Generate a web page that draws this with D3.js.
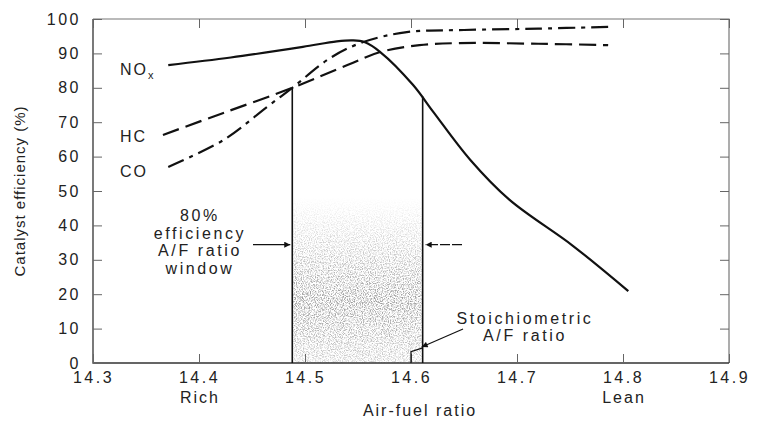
<!DOCTYPE html>
<html>
<head>
<meta charset="utf-8">
<script src="https://cdn.jsdelivr.net/npm/d3@7"></script>
<style>
  html, body { margin: 0; padding: 0; background: #fff; }
  svg { display: block; }
  text { font-family: "Liberation Sans", Arial, sans-serif; fill: #222; }
</style>
</head>
<body>
<svg id="chart" width="758" height="424"></svg>
<script>
// ---- data ----
const xTicks = [14.3, 14.4, 14.5, 14.6, 14.7, 14.8, 14.9];
const yTicks = [0, 10, 20, 30, 40, 50, 60, 70, 80, 90, 100];
const noxX = [14.371, 14.43, 14.498, 14.53, 14.545, 14.556, 14.571, 14.602, 14.621, 14.656, 14.693, 14.753, 14.805];
const noxY = [86.6, 88.8, 91.9, 93.5, 93.8, 93.3, 90.4, 80.8, 73.0, 59.0, 47.4, 34.0, 20.9];
const hcX = [14.366, 14.423, 14.488, 14.54, 14.571, 14.608, 14.646, 14.72, 14.786];
const hcY = [66.3, 72.7, 80.0, 86.6, 90.4, 92.4, 93.0, 92.8, 92.4];
const coX = [14.371, 14.423, 14.464, 14.488, 14.524, 14.555, 14.596, 14.65, 14.72, 14.786];
const coY = [57.0, 64.8, 74.4, 80.0, 88.7, 93.3, 96.2, 96.8, 97.2, 97.7];
const windowLo = 14.488, windowHi = 14.611, stoich = 14.6;
const windowLoY = 80.0, windowHiY = 77.5;
const xSideLabels = [{x: 14.4, t: "Rich"}, {x: 14.8, t: "Lean"}];

// ---- layout ----
const svg = d3.select("#chart");
const L = 93, R = 729, T = 19, B = 363;
const x = d3.scaleLinear().domain([14.3, 14.9]).range([L, R]);
const y = d3.scaleLinear().domain([0, 100]).range([B, T]);

// grain texture in window (scan look)
const defs = svg.append("defs");
const f = defs.append("filter").attr("id", "grain").attr("x", 0).attr("y", 0).attr("width", 1).attr("height", 1);
f.append("feTurbulence").attr("type", "fractalNoise").attr("baseFrequency", 0.85).attr("numOctaves", 2).attr("seed", 3).attr("result", "n");
f.append("feColorMatrix").attr("in", "n").attr("type", "matrix")
  .attr("values", "0 0 0 0 0.3  0 0 0 0 0.3  0 0 0 0 0.3  0 0 0 -3.2 1.85").attr("result", "g");
f.append("feComposite").attr("in", "g").attr("in2", "SourceGraphic").attr("operator", "in");
const lg = defs.append("linearGradient").attr("id", "fadeg").attr("x1", 0).attr("y1", 0).attr("x2", 0).attr("y2", 1);
lg.append("stop").attr("offset", "0").attr("stop-color", "#fff").attr("stop-opacity", 0);
lg.append("stop").attr("offset", "0.3").attr("stop-color", "#fff").attr("stop-opacity", 0.45);
lg.append("stop").attr("offset", "0.62").attr("stop-color", "#fff").attr("stop-opacity", 0.95);
lg.append("stop").attr("offset", "1").attr("stop-color", "#fff").attr("stop-opacity", 0.45);
svg.append("rect")
  .attr("x", x(windowLo) + 1).attr("y", y(48)).attr("width", x(windowHi) - x(windowLo) - 2).attr("height", y(0) - y(48))
  .attr("fill", "url(#fadeg)").attr("filter", "url(#grain)");

// ---- axes frame ----
svg.append("path").attr("d", `M${L},${T} H${R} V${B}`).attr("fill", "none").attr("stroke", "#777").attr("stroke-width", 1.2);
svg.append("path").attr("d", `M${L},${T} V${B} H${R}`).attr("fill", "none").attr("stroke", "#333").attr("stroke-width", 1.3);

const tickLen = 9;
svg.append("g").attr("transform", `translate(0,${B})`)
  .call(d3.axisBottom(x).tickValues(xTicks).tickSize(-tickLen).tickPadding(9).tickFormat(d3.format(".1f")))
  .call(g => g.select(".domain").remove());
svg.append("g").attr("transform", `translate(0,${T})`)
  .call(d3.axisTop(x).tickValues(xTicks).tickSize(-tickLen).tickFormat(""))
  .call(g => g.select(".domain").remove());
svg.append("g").attr("transform", `translate(${L},0)`)
  .call(d3.axisLeft(y).tickValues(yTicks).tickSize(-tickLen).tickPadding(12))
  .call(g => g.select(".domain").remove());
svg.append("g").attr("transform", `translate(${R},0)`)
  .call(d3.axisRight(y).tickValues(yTicks).tickSize(-tickLen).tickFormat(""))
  .call(g => g.select(".domain").remove());
svg.selectAll(".tick line").attr("stroke", "#666").attr("stroke-width", 1);
svg.selectAll(".tick text").attr("font-size", 16).attr("letter-spacing", "2.5px")
  .attr("fill", "#222").style("font-family", "'Liberation Sans', Arial, sans-serif");

// side labels Rich / Lean
svg.selectAll("text.side").data(xSideLabels).join("text")
  .attr("class", "side").attr("x", d => x(d.x) + 1).attr("y", 403)
  .attr("text-anchor", "middle").attr("font-size", 16).attr("letter-spacing", "2px").text(d => d.t);
svg.append("text").attr("x", 420).attr("y", 416).attr("text-anchor", "middle")
  .attr("font-size", 16).attr("letter-spacing", "2px").text("Air-fuel ratio");
svg.append("text").attr("transform", `translate(25,${191}) rotate(-90)`).attr("text-anchor", "middle")
  .attr("font-size", 15).attr("letter-spacing", "1px").text("Catalyst efficiency (%)");

// ---- window lines ----
svg.append("line").attr("x1", x(windowLo)).attr("x2", x(windowLo)).attr("y1", y(0)).attr("y2", y(windowLoY))
  .attr("stroke", "#111").attr("stroke-width", 1.6);
svg.append("line").attr("x1", x(windowHi)).attr("x2", x(windowHi)).attr("y1", y(0)).attr("y2", y(windowHiY))
  .attr("stroke", "#111").attr("stroke-width", 1.6);
// stoichiometric marker
svg.append("path").attr("d", `M${x(stoich)},${y(0)} V${y(3.3)} L${x(windowHi)},${y(4.4)}`)
  .attr("fill", "none").attr("stroke", "#111").attr("stroke-width", 1.3);

// ---- curves ----
const line = d3.line().x(d => x(d[0])).y(d => y(d[1])).curve(d3.curveCatmullRom.alpha(0.5));
const zip = (a, b) => a.map((v, i) => [v, b[i]]);
svg.append("path").datum(zip(hcX, hcY)).attr("d", line).attr("fill", "none")
  .attr("stroke", "#111").attr("stroke-width", 2.2).attr("stroke-dasharray", "17,7");
svg.append("path").datum(zip(coX, coY)).attr("d", line).attr("fill", "none")
  .attr("stroke", "#111").attr("stroke-width", 2.2).attr("stroke-dasharray", "17,6,4,6");
svg.append("path").datum(zip(noxX, noxY)).attr("d", line).attr("fill", "none")
  .attr("stroke", "#111").attr("stroke-width", 2.2);

// ---- curve labels ----
const nox = svg.append("text").attr("x", 120).attr("y", 75).attr("font-size", 16).attr("letter-spacing", "2px");
nox.append("tspan").text("NO");
nox.append("tspan").attr("font-size", 11).attr("dy", 4).text("x");
svg.append("text").attr("x", 120).attr("y", 142).attr("font-size", 16).attr("letter-spacing", "2px").text("HC");
svg.append("text").attr("x", 120).attr("y", 177).attr("font-size", 16).attr("letter-spacing", "2px").text("CO");

// ---- annotations ----
const win = ["80%", "efficiency", "A/F ratio", "window"];
svg.selectAll("text.win").data(win).join("text").attr("class", "win")
  .attr("x", 200).attr("y", (d, i) => 221 + i * 17.5).attr("text-anchor", "middle")
  .attr("font-size", 16).attr("letter-spacing", "2.6px").text(d => d);

defs.append("marker").attr("id", "ah").attr("viewBox", "0 0 10 10").attr("refX", 10).attr("refY", 5)
  .attr("markerWidth", 8).attr("markerHeight", 6).attr("markerUnits", "userSpaceOnUse").attr("orient", "auto")
  .append("path").attr("d", "M0,0 L10,5 L0,10 z").attr("fill", "#111");
const arrowY = y(34.4);
svg.append("line").attr("x1", 253).attr("x2", x(windowLo) - 2).attr("y1", arrowY).attr("y2", arrowY)
  .attr("stroke", "#111").attr("stroke-width", 1.2).attr("marker-end", "url(#ah)");
svg.append("line").attr("x1", 462).attr("x2", x(windowHi) + 3).attr("y1", arrowY).attr("y2", arrowY)
  .attr("stroke", "#111").attr("stroke-width", 1.2).attr("stroke-dasharray", "10,2").attr("marker-end", "url(#ah)");

svg.append("text").attr("x", 525).attr("y", 324).attr("text-anchor", "middle")
  .attr("font-size", 16).attr("letter-spacing", "2.6px").text("Stoichiometric");
svg.append("text").attr("x", 525).attr("y", 341).attr("text-anchor", "middle")
  .attr("font-size", 16).attr("letter-spacing", "2.6px").text("A/F ratio");
svg.append("line").attr("x1", 463).attr("y1", 329).attr("x2", x(windowHi) - 1).attr("y2", 347)
  .attr("stroke", "#111").attr("stroke-width", 1.2).attr("marker-end", "url(#ah)");
</script>
</body>
</html>
